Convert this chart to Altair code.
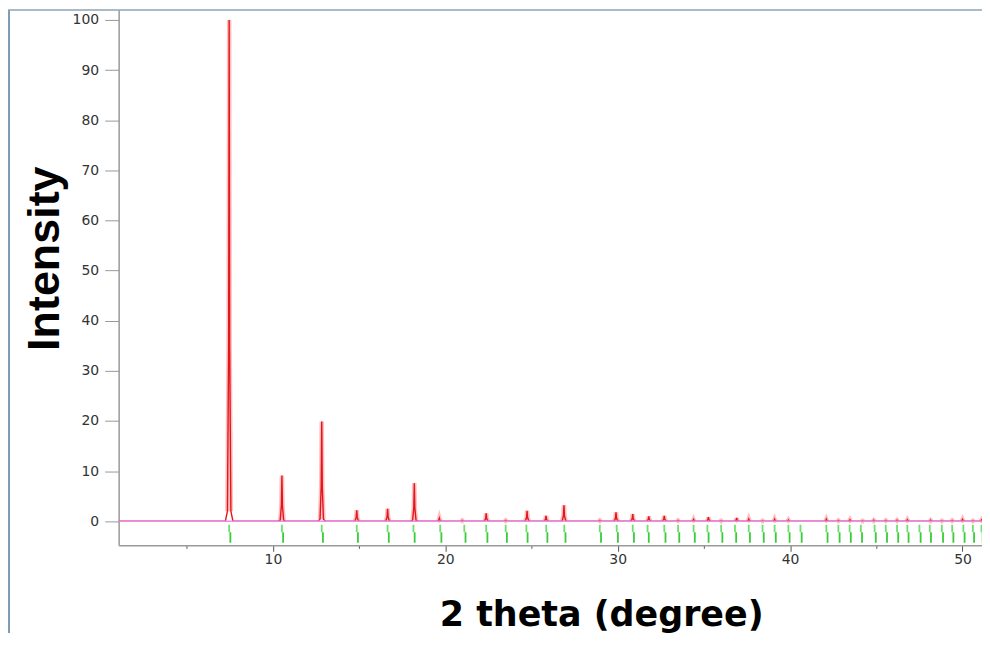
import altair as alt
import pandas as pd

# ---- data ----
peak_pos = [7.46, 10.52, 12.83, 14.86, 16.65, 18.20, 19.65, 20.98, 22.37, 23.50,
            24.74, 25.84, 26.88, 28.96, 29.90, 30.87, 31.80, 32.70, 33.50, 34.40,
            35.26, 36.00, 36.90, 37.60, 38.40, 39.10, 39.90, 42.10, 42.80, 43.47,
            44.20, 44.85, 45.55, 46.20, 46.80, 48.15, 48.80, 49.40, 50.00, 50.60, 51.10]
peak_int = [100, 9.1, 19.9, 2.2, 2.5, 7.6, 0.6, 0.15, 1.6, 0.15,
            2.1, 1.1, 3.2, 0.15, 1.8, 1.45, 1.0, 1.1, 0.15, 0.35,
            0.8, 0.1, 0.65, 0.45, 0.1, 0.4, 0.25, 0.4, 0.15, 0.3,
            0.1, 0.2, 0.15, 0.2, 0.3, 0.2, 0.1, 0.15, 0.35, 0.1, 0.25]
bragg_pos = [7.46, 10.52, 12.83, 14.86, 16.65, 18.15, 19.70, 21.10, 22.37, 23.50,
             24.70, 25.85, 26.90, 28.96, 29.94, 30.87, 31.73, 32.70, 33.50, 34.40,
             35.20, 36.00, 36.80, 37.60, 38.40, 39.10, 39.90, 40.60, 42.10, 42.80,
             43.45, 44.10, 44.90, 45.55, 46.20, 46.80, 47.50, 48.10, 48.80, 49.40,
             50.05, 50.60, 51.10]
x_ticks = [5, 10, 15, 20, 25, 30, 35, 40, 45, 50]
y_ticks = [0, 10, 20, 30, 40, 50, 60, 70, 80, 90, 100]
x_domain = [1.05, 51.13]
y_domain = [-4.8, 102]

# ---- build the diffraction profile tables ----
shape = [(-0.22, 0.0), (-0.10, 0.02), (-0.03, 0.35), (0.0, 1.0),
         (0.03, 0.35), (0.10, 0.02), (0.22, 0.0)]
rows = [(x_domain[0], 0.0)]
halo_rows = []
for i, (p, h) in enumerate(zip(peak_pos, peak_int)):
    for dx, f in shape:
        rows.append((p + dx, h * f))
    for dx, f in shape[1:-1]:
        halo_rows.append((i, p + dx, h * f))
rows.append((x_domain[1], 0.0))
rows.sort()
prof = pd.DataFrame(rows, columns=["theta", "inten"])
halo_df = pd.DataFrame(halo_rows, columns=["peak", "theta", "inten"])

base = pd.DataFrame({"theta": x_domain, "inten": [0, 0]})
bragg = pd.DataFrame({"theta": bragg_pos})
bragg["theta2"] = bragg["theta"] + 0.07
bragg["top"] = -0.7
bragg["mid"] = -2.2
bragg["bot"] = -4.3

lab_font = "DejaVu Sans"

x_enc = alt.X(
    "theta:Q",
    scale=alt.Scale(domain=x_domain, nice=False, zero=False),
    axis=alt.Axis(
        title="2 theta (degree)",
        values=x_ticks,
        labelExpr="datum.value % 10 === 0 ? datum.label : ''",
        tickSize={"condition": {"test": "datum.value % 10 === 0", "value": 6}, "value": 3},
        tickColor="#555",
        domainColor="#9a9a9a",
        domainWidth=1.5,
        grid=False,
        labelFont=lab_font,
        labelFontSize=14,
        labelColor="#333",
        labelPadding=1,
        titleFont=lab_font,
        titleFontSize=35,
        titleFontWeight="bold",
        titleColor="#000",
        titleX=484,
        titleY=80,
        titleBaseline="alphabetic",
        titleAlign="center",
    ),
)
y_enc = alt.Y(
    "inten:Q",
    scale=alt.Scale(domain=y_domain, nice=False, zero=False),
    axis=alt.Axis(
        title="Intensity",
        values=y_ticks,
        tickSize=14,
        tickColor="#999",
        domainColor="#9a9a9a",
        domainWidth=1.5,
        grid=False,
        labelFont=lab_font,
        labelFontSize=14,
        labelColor="#333",
        labelPadding=6,
        titleFont="Liberation Sans",
        titleFontSize=45,
        titleFontWeight="bold",
        titleColor="#000",
        titleX=-60,
        titleY=249,
        titleBaseline="alphabetic",
        titleAlign="center",
    ),
)

halo = alt.Chart(halo_df).mark_line(
    color="#ff8080", strokeWidth=4.5, opacity=0.5, clip=True
).encode(x=x_enc, y=y_enc, detail="peak:N")

core = alt.Chart(prof).mark_line(
    color="#e3161c", strokeWidth=1.4, clip=True
).encode(x="theta:Q", y="inten:Q")

baseline = alt.Chart(base).mark_line(
    color="#e88ee8", strokeWidth=1.5, clip=True
).encode(x="theta:Q", y="inten:Q")

bragg_up = alt.Chart(bragg).mark_rule(color="#6ee06e", strokeWidth=1.8, clip=True).encode(
    x="theta:Q", y="top:Q", y2="mid:Q"
)
bragg_lo = alt.Chart(bragg).mark_rule(color="#38cc38", strokeWidth=1.8, clip=True).encode(
    x="theta2:Q", y="mid:Q", y2="bot:Q"
)

frame = pd.DataFrame({"k": [0]})
frame_left = alt.Chart(frame).mark_rule(color="#7f9cb5", strokeWidth=2).encode(
    x=alt.value(-110), y=alt.value(0), y2=alt.value(625)
)
frame_top = alt.Chart(frame).mark_rule(color="#8ea4b4", strokeWidth=1.5).encode(
    x=alt.value(-111), x2=alt.value(866), y=alt.value(0)
)

chart = alt.layer(
    halo, core, baseline, bragg_up, bragg_lo, frame_left, frame_top
).properties(
    width=866,
    height=537,
    padding={"left": 111, "top": 1, "right": 0, "bottom": 88},
    autosize=alt.AutoSizeParams(type="none"),
    background="white",
).configure_view(stroke=None)

chart.save("out.html", embed_options={"renderer": "svg", "actions": False})
